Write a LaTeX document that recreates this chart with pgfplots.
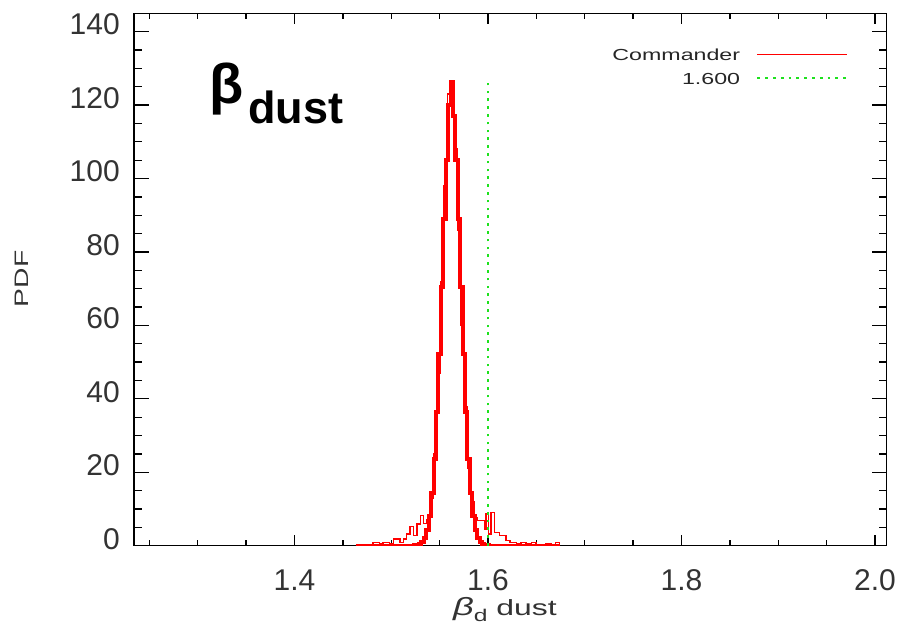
\documentclass[border=0pt]{standalone}
\usepackage{pgfplots}
\pgfplotsset{compat=1.18}
\usepackage{fontspec}
\setmainfont{Liberation Sans}
\newfontfamily\idl{Liberation Sans}[FakeStretch=1.45]
\definecolor{idlgreen}{RGB}{30,225,30}
\definecolor{idlred}{RGB}{255,0,0}

\begin{document}
\begin{tikzpicture}[x=1pt,y=1pt]
\path[use as bounding box] (0,0) rectangle (899,637);

\pgfplotsset{
  idlframe/.style={
    at={(134pt,91.3pt)}, anchor=south west,
    width=752.7pt, height=532.4pt, scale only axis,
    xmin=1.2341, xmax=2.0121, ymin=0, ymax=145,
    axis line style={black, line width=1.4pt},
    tick style={black, line width=1.3pt},
    tick align=inside,
    tick label style={font=\fontsize{30}{30}\selectfont, text=black!80},
    /pgf/number format/assume math mode=true,
  }}

% x ticks (shorter tick marks along the horizontal edges)
\begin{axis}[idlframe,
  xtick={1.4,1.6,1.8,2.0}, xticklabels={1.4,1.6,1.8,2.0},
  minor xtick={1.25,1.30,1.35,1.45,1.50,1.55,1.65,1.70,1.75,1.85,1.90,1.95},
  major tick length=10.6pt, minor tick length=5.3pt,
  ytick=\empty,
  xticklabel style={inner sep=0pt, anchor=north, yshift=-24pt}]
\end{axis}

% data, y ticks and legend
\begin{axis}[idlframe,
  xtick=\empty,
  ytick={0,20,...,140}, minor y tick num=3,
  major tick length=15pt, minor tick length=7.5pt,
  yticklabel style={inner sep=0pt, anchor=east, xshift=-14pt, yshift=7pt},
  legend plot pos=right, legend cell align=right,
  legend style={draw=none, fill=none, inner sep=0pt,
    at={(0.9499,0.9367)}, anchor=north east,
    font=\idl\fontsize{16}{16}\selectfont, text=black!85,
    nodes={inner sep=1pt, text height=12.5pt, text depth=0pt},
    row sep=9.2pt},
  legend image code/.code={\path (0pt,0pt); \draw[#1] (15pt,0pt) -- (105pt,0pt);}]

% fine-binned histogram (heavy)
\addplot[idlred, line width=4pt, const plot mark mid, forget plot] coordinates {
(1.4635,0) (1.5225,0) (1.5250,0.07) (1.5275,0.18) (1.5300,0.44) (1.5325,1.0)
(1.5350,2.2) (1.5375,4.3) (1.5400,8.2) (1.5425,14.3) (1.5450,23.6) (1.5475,36.3)
(1.5500,52.3) (1.5525,70.5) (1.5550,89.0) (1.5575,105.1) (1.5600,120) (1.5625,126.3)
(1.5650,117) (1.5675,105.1) (1.5700,89.0) (1.5725,70.5) (1.5750,52.3) (1.5775,36.3)
(1.5800,23.6) (1.5825,14.3) (1.5850,8.2) (1.5875,4.3) (1.5900,2.2) (1.5925,1.0)
(1.5950,0.44) (1.5975,0.18) (1.6000,0.07) (1.6025,0) (1.6740,0)};

% Commander histogram (thin)
\addplot[idlred, line width=1.3pt, const plot mark left, forget plot] coordinates {
(1.4635,0.3) (1.4705,0) (1.4740,0.3) (1.4810,0.9) (1.4880,0.45) (1.4915,0.9)
(1.4985,0.5) (1.5020,1.8) (1.5090,0.9) (1.5125,1.8) (1.5160,3.2) (1.5195,5.2)
(1.5230,2.7) (1.5265,5.9) (1.5300,8.2) (1.5335,6.0) (1.5370,7.0) (1.5405,13)
(1.5440,25) (1.5475,47) (1.5510,72) (1.5545,98) (1.5580,123) (1.5615,122)
(1.5650,108) (1.5685,86) (1.5720,60) (1.5755,38) (1.5790,21) (1.5825,12)
(1.5859,7.7) (1.5894,6.8) (1.5963,4.5) (1.5980,8.6) (1.6004,3.2) (1.6032,9.1)
(1.6066,3.6) (1.6118,2.7) (1.6187,1.4) (1.6228,0.9) (1.6291,0.45) (1.6342,0.9)
(1.6394,0.45) (1.6446,0.9) (1.6497,0.3) (1.6550,0) (1.6600,0.45) (1.6650,0)
(1.6700,0.8) (1.6740,0)};

% input value
\addplot[idlgreen, line width=2.7pt, dash pattern=on 2.7pt off 5.1pt, forget plot]
  coordinates {(1.6,0) (1.6,126.3)};

\addlegendimage{idlred, line width=1.3pt}
\addlegendentry{Commander}
\addlegendimage{idlgreen, line width=2.7pt, dash pattern=on 2.7pt off 5.1pt}
\addlegendentry{1.600}
\end{axis}

% axis titles
\node[rotate=90, inner sep=0pt, anchor=center, text=black!80] at (21.7,358)
  {\idl\fontsize{19.5}{19.5}\selectfont PDF};
\node[anchor=base, inner sep=0pt, text=black!80] at (505,22)
  {\idl\fontsize{22}{22}\selectfont{\itshape\fontsize{25}{25}\selectfont β}\raisebox{-6pt}{\fontsize{17}{17}\selectfont d}\ dust};

% parameter tag
\node[anchor=base west, inner sep=0pt] at (209,533)
  {\bfseries\fontsize{56}{56}\selectfont β};
\node[anchor=base west, inner sep=0pt] at (248,513)
  {\bfseries\fontsize{45}{45}\selectfont dust};
\end{tikzpicture}
\end{document}
